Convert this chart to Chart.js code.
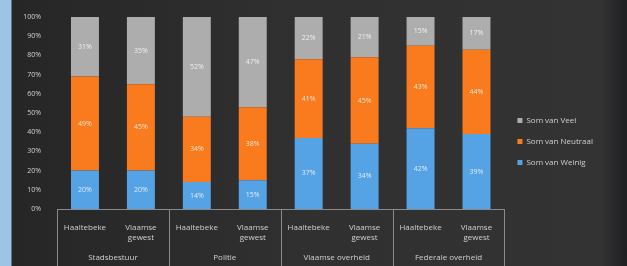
<!DOCTYPE html>
<html>
<head>
<meta charset="utf-8">
<script src="https://cdn.jsdelivr.net/npm/chart.js@4"></script>
<style>
  html, body { margin: 0; padding: 0; }
  body { width: 627px; height: 266px; overflow: hidden; background: #2d2d2d; }
  #wrap { position: relative; width: 627px; height: 266px;
    background: linear-gradient(to right, #9dc4e6 0px, #9dc4e6 11px, #262626 12px, #303030 300px, #333333 600px, #1f1f22 627px); }
  canvas { position: absolute; left: 0; top: 0; }
</style>
</head>
<body>
<div id="wrap"><canvas id="chart" width="627" height="266"></canvas></div>
<script>
// categories (two levels)
const places = [["Haaltebeke"], ["Vlaamse", "gewest"], ["Haaltebeke"], ["Vlaamse", "gewest"],
                ["Haaltebeke"], ["Vlaamse", "gewest"], ["Haaltebeke"], ["Vlaamse", "gewest"]];
const groups = ["Stadsbestuur", "Politie", "Vlaamse overheid", "Federale overheid"];

// series (percent)
const weinig   = [20, 20, 14, 15, 37, 34, 42, 39];
const neutraal = [49, 45, 34, 38, 41, 45, 43, 44];
const veel     = [31, 35, 52, 47, 22, 21, 15, 17];

const yTicks = [0, 10, 20, 30, 40, 50, 60, 70, 80, 90, 100];

const txt = "#d0d0d0";
const font = "'Open Sans', 'Liberation Sans', sans-serif";

// white value labels inside each segment
const valueLabels = {
  id: "valueLabels",
  afterDatasetsDraw(chart) {
    const ctx = chart.ctx;
    ctx.save();
    ctx.font = "7px " + font;
    ctx.fillStyle = "rgba(255,255,255,0.8)";
    ctx.textAlign = "center";
    ctx.textBaseline = "middle";
    chart.data.datasets.forEach((ds, i) => {
      chart.getDatasetMeta(i).data.forEach((bar, j) => {
        const y = (bar.y + bar.base) / 2;
        ctx.fillText(ds.data[j] + "%", bar.x, y);
      });
    });
    ctx.restore();
  }
};

// group boxes under the axis
const groupAxis = {
  id: "groupAxis",
  afterDraw(chart) {
    const ctx = chart.ctx;
    const x = chart.scales.x;
    const area = chart.chartArea;
    const half = (x.getPixelForValue(1) - x.getPixelForValue(0)) / 2;
    ctx.save();
    ctx.strokeStyle = "#8a8a8a";
    ctx.lineWidth = 1;
    ctx.beginPath();
    for (let g = 0; g <= groups.length; g++) {
      const px = Math.round(g < groups.length ? x.getPixelForValue(g * 2) - half : x.getPixelForValue(groups.length * 2 - 1) + half) + 0.5;
      ctx.moveTo(px, area.bottom);
      ctx.lineTo(px, chart.height);
    }
    ctx.moveTo(area.left, area.bottom + 0.5);
    ctx.lineTo(area.right, area.bottom + 0.5);
    ctx.stroke();
    ctx.font = "8px " + font;
    ctx.fillStyle = txt;
    ctx.textAlign = "center";
    ctx.textBaseline = "middle";
    groups.forEach((g, i) => {
      const cx = (x.getPixelForValue(i * 2) + x.getPixelForValue(i * 2 + 1)) / 2;
      ctx.fillText(g, cx, 258);
    });
    ctx.restore();
  }
};

new Chart(document.getElementById("chart"), {
  type: "bar",
  data: {
    labels: places,
    datasets: [
      { label: "Som van Weinig", data: weinig, backgroundColor: "#55a2e4" },
      { label: "Som van Neutraal", data: neutraal, backgroundColor: "#fa7a1e" },
      { label: "Som van Veel", data: veel, backgroundColor: "#adadad" }
    ]
  },
  options: {
    responsive: false,
    animation: false,
    layout: { padding: { left: 12, top: 17, right: 24, bottom: 0 } },
    datasets: { bar: { categoryPercentage: 1, barPercentage: 0.5 } },
    plugins: {
      tooltip: { enabled: false },
      legend: {
        position: "right",
        reverse: true,
        labels: {
          color: txt, boxWidth: 5, boxHeight: 5, padding: 13,
          font: { size: 8, family: font }
        }
      }
    },
    scales: {
      x: {
        stacked: true,
        grid: { display: false },
        border: { display: false },
        ticks: { color: txt, font: { size: 8, family: font }, maxRotation: 0, autoSkip: false, padding: 6 },
        afterFit: (s) => { s.height = 57; }
      },
      y: {
        stacked: true,
        min: 0, max: 100,
        afterBuildTicks: (s) => { s.ticks = yTicks.map(v => ({ value: v })); },
        grid: { display: false },
        border: { display: false },
        ticks: { color: txt, font: { size: 7, family: font }, padding: 8, callback: (v) => v + "%" },
        afterFit: (s) => { s.width = 45; }
      }
    }
  },
  plugins: [valueLabels, groupAxis]
});
</script>
</body>
</html>
